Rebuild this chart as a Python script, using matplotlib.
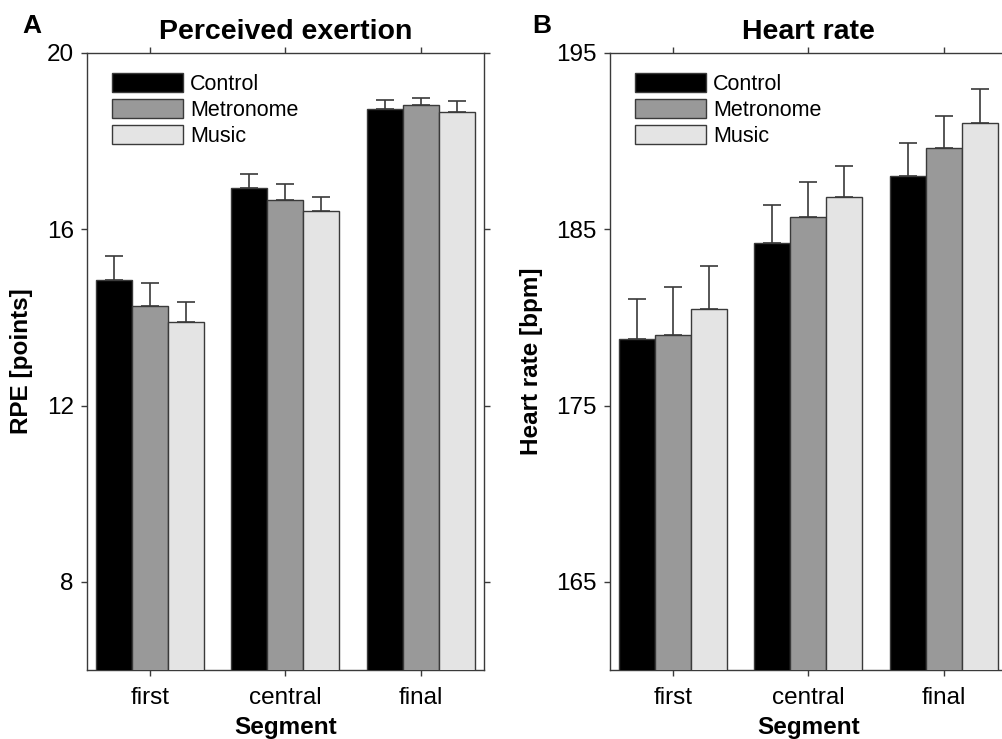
import numpy as np
import matplotlib.pyplot as plt

plt.rcParams['font.family'] = ['Liberation Sans', 'DejaVu Sans']

segments = ['first', 'central', 'final']
conditions = ['Control', 'Metronome', 'Music']
colors = ['#000000', '#999999', '#e4e4e4']

# perceived exertion (RPE), mean and SE per condition x segment
rpe_mean = {
    'Control': [14.84, 16.93, 18.73],
    'Metronome': [14.26, 16.67, 18.82],
    'Music': [13.90, 16.41, 18.66],
}
rpe_err = {
    'Control': [0.55, 0.32, 0.21],
    'Metronome': [0.53, 0.36, 0.16],
    'Music': [0.44, 0.33, 0.26],
}

# heart rate (bpm)
hr_mean = {
    'Control': [178.8, 184.2, 188.0],
    'Metronome': [179.0, 185.7, 189.6],
    'Music': [180.5, 186.8, 191.0],
}
hr_err = {
    'Control': [2.26, 2.19, 1.89],
    'Metronome': [2.72, 1.96, 1.80],
    'Music': [2.43, 1.77, 1.96],
}

EDGE = '#3a3a3a'
BAR_W = 0.266


def draw_panel(ax, means, errs, ylim, yticks, title, ylabel, label_x):
    x = np.arange(len(segments))
    for i, cond in enumerate(conditions):
        pos = x + (i - 1) * BAR_W
        ax.bar(pos, means[cond], BAR_W, color=colors[i], edgecolor=EDGE,
               linewidth=1.0, label=cond, zorder=3)
        m = np.array(means[cond])
        e = np.array(errs[cond])
        ax.errorbar(pos, m, yerr=[np.zeros_like(e), e], fmt='none',
                    ecolor=EDGE, elinewidth=1.2, capsize=6.5, capthick=1.2, zorder=2)
    ax.set_xlim(-0.466, 2.466)
    ax.set_ylim(*ylim)
    ax.set_yticks(yticks)
    ax.set_xticks(x)
    ax.set_xticklabels(segments)
    ax.tick_params(axis='both', which='both', direction='out', length=4.5, width=1,
                   color=EDGE, labelsize=17.5, top=True, right=True,
                   labeltop=False, labelright=False)
    ax.tick_params(axis='y', pad=5)
    ax.tick_params(axis='x', pad=8)
    for s in ax.spines.values():
        s.set_color(EDGE)
        s.set_linewidth(1.0)
    ax.set_title(title, fontsize=20.5, fontweight='bold', pad=10)
    ax.set_ylabel(ylabel, fontsize=17.5, fontweight='bold')
    ax.yaxis.set_label_coords(label_x, 0.5)
    ax.set_xlabel('Segment', fontsize=17.5, fontweight='bold', labelpad=5)
    ax.legend(loc='upper left', bbox_to_anchor=(0.063, 0.967), frameon=False,
              fontsize=15.5, handlelength=3.3, handleheight=0.93,
              labelspacing=0.21, handletextpad=0.33, borderpad=0, borderaxespad=0)


fig = plt.figure(figsize=(10.02, 7.39), dpi=100)
ax1 = fig.add_axes([0.0868, 0.0934, 0.396, 0.835])
ax2 = fig.add_axes([0.6088, 0.0934, 0.396, 0.835])

draw_panel(ax1, rpe_mean, rpe_err, (6, 20), [8, 12, 16, 20],
           'Perceived exertion', 'RPE [points]', -0.136)
draw_panel(ax2, hr_mean, hr_err, (160, 195), [165, 175, 185, 195],
           'Heart rate', 'Heart rate [bpm]', -0.169)

fig.text(0.022, 0.965, 'A', fontsize=19, fontweight='bold', va='center')
fig.text(0.531, 0.965, 'B', fontsize=19, fontweight='bold', va='center')

fig.savefig('out.png', dpi=100)
